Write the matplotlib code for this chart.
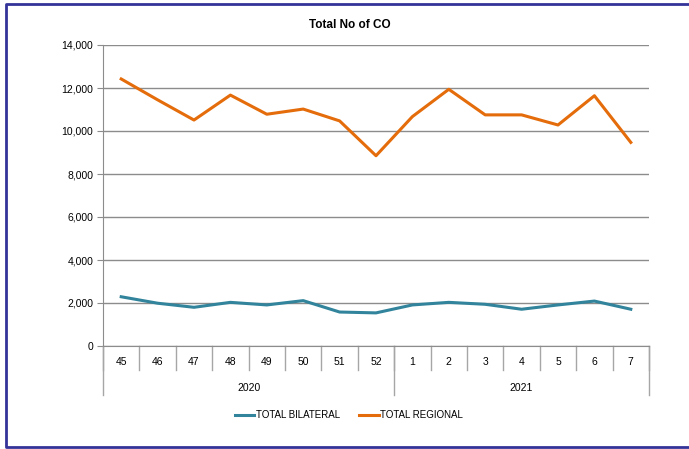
import matplotlib.pyplot as plt
from matplotlib.lines import Line2D
import matplotlib.transforms as mtransforms

plt.rcParams['font.family'] = ['Liberation Sans', 'DejaVu Sans']

weeks = ['45', '46', '47', '48', '49', '50', '51', '52', '1', '2', '3', '4', '5', '6', '7']
years = ['2020', '2021']
year_counts = [8, 7]
bilateral = [2290, 1990, 1800, 2030, 1910, 2110, 1580, 1540, 1910, 2030, 1940, 1710, 1910, 2090, 1710]
regional = [12420, 11450, 10510, 11670, 10780, 11020, 10470, 8850, 10670, 11940, 10750, 10750, 10280, 11640, 9470]

W, H = 689, 449
fig = plt.figure(figsize=(W / 100, H / 100), dpi=100)
# border on left, top and bottom only (right edge is cut off)
bx = [W + 5, 6, 6, W + 5]
by = [H - 4, H - 4, 2, 2]
fig.lines.append(Line2D([v / W for v in bx], [v / H for v in by], transform=fig.transFigure,
                        color='#333399', linewidth=2))

ax = fig.add_axes([103 / W, (H - 346) / H, (649 - 103) / W, (346 - 45) / H])
x = list(range(len(weeks)))
ax.plot(x, bilateral, color='#31849B', linewidth=2.2, label='TOTAL BILATERAL')
ax.plot(x, regional, color='#E46C0A', linewidth=2.2, label='TOTAL REGIONAL')

ax.set_xlim(-0.5, len(weeks) - 0.5)
ax.set_ylim(0, 14000)
ax.set_yticks(range(0, 14001, 2000))
ax.set_yticklabels([f'{v:,}' for v in range(0, 14001, 2000)], fontsize=7.5)
ax.yaxis.grid(True, color='#8C8C8C', linewidth=1)
ax.set_axisbelow(True)
ax.set_xticks([])
for s in ['top', 'right']:
    ax.spines[s].set_visible(False)
for s in ['left', 'bottom']:
    ax.spines[s].set_color('#8C8C8C')
ax.tick_params(axis='y', length=4, color='#8C8C8C', pad=3)

trans = mtransforms.blended_transform_factory(ax.transData, ax.transAxes)
for i, w in enumerate(weeks):
    ax.text(i, -0.053, w, transform=trans, ha='center', va='center', fontsize=7.5)
# separators in week row
for k in range(len(weeks) + 1):
    ax.plot([k - 0.5, k - 0.5], [0, -0.08], transform=trans, color='#A6A6A6',
            linewidth=1, clip_on=False)
# year row
start = 0
for yr, n in zip(years, year_counts):
    ax.text(start + (n - 1) / 2, -0.14, yr, transform=trans, ha='center', va='center', fontsize=7.5)
    ax.plot([start - 0.5, start - 0.5], [0, -0.163], transform=trans, color='#A6A6A6',
            linewidth=1, clip_on=False)
    start += n
ax.plot([start - 0.5, start - 0.5], [0, -0.163], transform=trans, color='#A6A6A6',
        linewidth=1, clip_on=False)

fig.text(350 / W, 1 - 25 / H, 'Total No of CO', ha='center', va='center',
         fontsize=8.5, fontweight='bold')
fig.legend(loc='center', bbox_to_anchor=(349 / W, 1 - 415 / H), ncol=2, frameon=False,
           fontsize=7, handlelength=2.0, columnspacing=2.0, handletextpad=0.15)

fig.savefig('out.png', dpi=100)
